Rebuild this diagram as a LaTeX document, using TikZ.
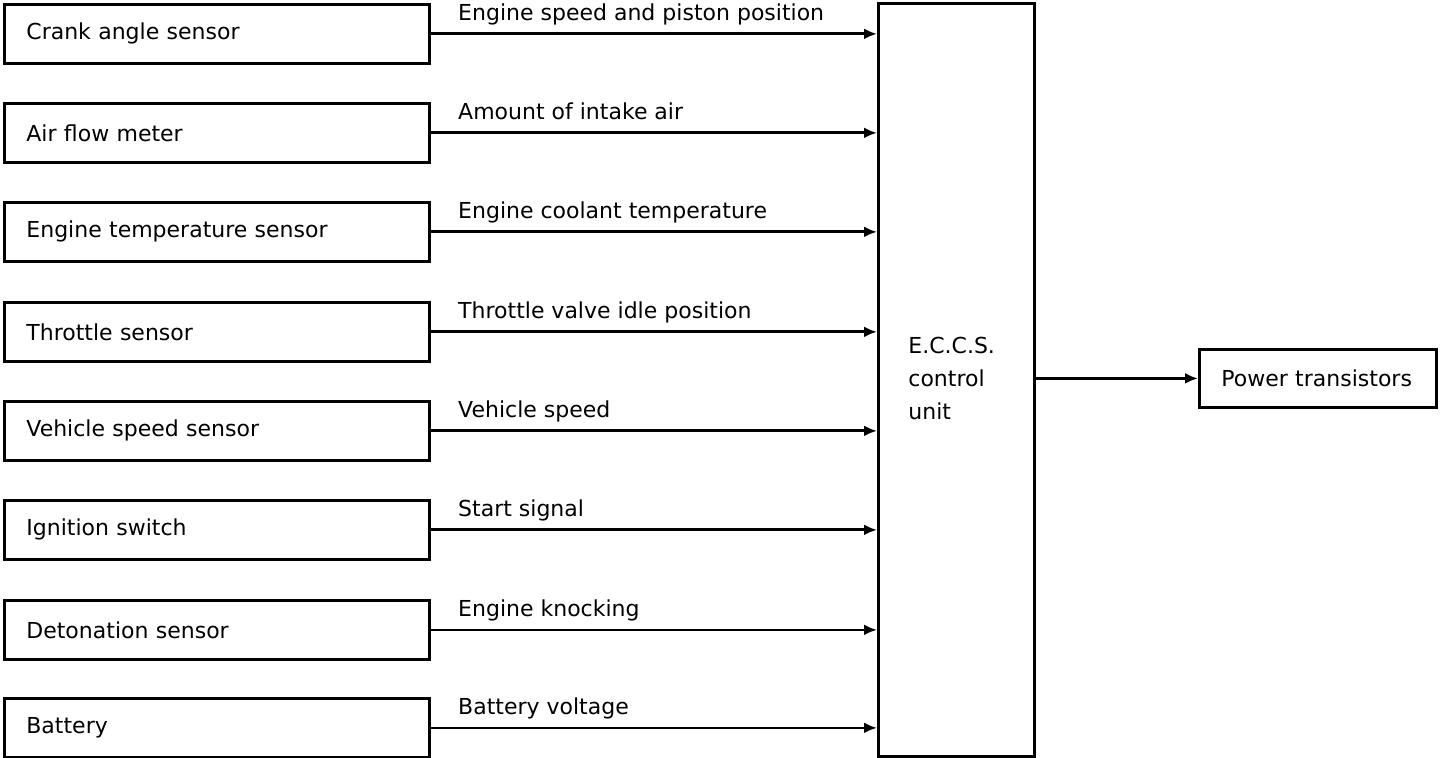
\documentclass[tikz,border=0pt]{standalone}
\usepackage{fontspec}
\setmainfont{DejaVu Sans}
\usetikzlibrary{arrows.meta}
\begin{document}
\begin{tikzpicture}[x=0.5pt,y=-0.5pt,line width=1.4pt,
  txt/.style={font=\fontsize{11}{16.5}\selectfont},
  sbox/.style={draw, txt, anchor=north west, minimum height=29.5pt,
    text width=190.5pt, inner xsep=11pt, inner ysep=0pt, align=left},
  arr/.style={-{Latex[length=6.5pt,width=5.5pt]}},
  lbl/.style={txt, anchor=base west, inner sep=0pt}]
\useasboundingbox (0,0) rectangle (1456,758);
% ECCS control unit
\node[draw, anchor=north west, minimum width=78pt, minimum height=376.5pt, inner sep=0pt] (E) at (877,2) {};
\node[txt, anchor=west, align=left, inner sep=0pt] (Et) at (907,378) {E.C.C.S.\\control\\unit};
% Power transistors
\node[draw, txt, anchor=north west, minimum width=118.5pt, minimum height=29pt,
  text width=96.5pt, inner xsep=11pt, inner ysep=0pt, align=left] (P) at (1198,348) {Power transistors};
\draw[arr] (E.east |- P.west) -- (P.west);
% sensors
\foreach \i/\top/\name/\sig in {
  1/3/Crank angle sensor/Engine speed and piston position,
  2/102/Air flow meter/Amount of intake air,
  3/201/Engine temperature sensor/Engine coolant temperature,
  4/301/Throttle sensor/Throttle valve idle position,
  5/400/Vehicle speed sensor/Vehicle speed,
  6/499/Ignition switch/Start signal,
  7/599/Detonation sensor/Engine knocking,
  8/697/Battery/Battery voltage}{
  \node[sbox] (s\i) at (3,\top) {\name};
  \draw[arr] (s\i.east) -- (s\i.east -| E.west)
    node[lbl, pos=0, xshift=13pt, yshift=6.5pt] (l\i) {\sig};
}
\end{tikzpicture}
\end{document}
